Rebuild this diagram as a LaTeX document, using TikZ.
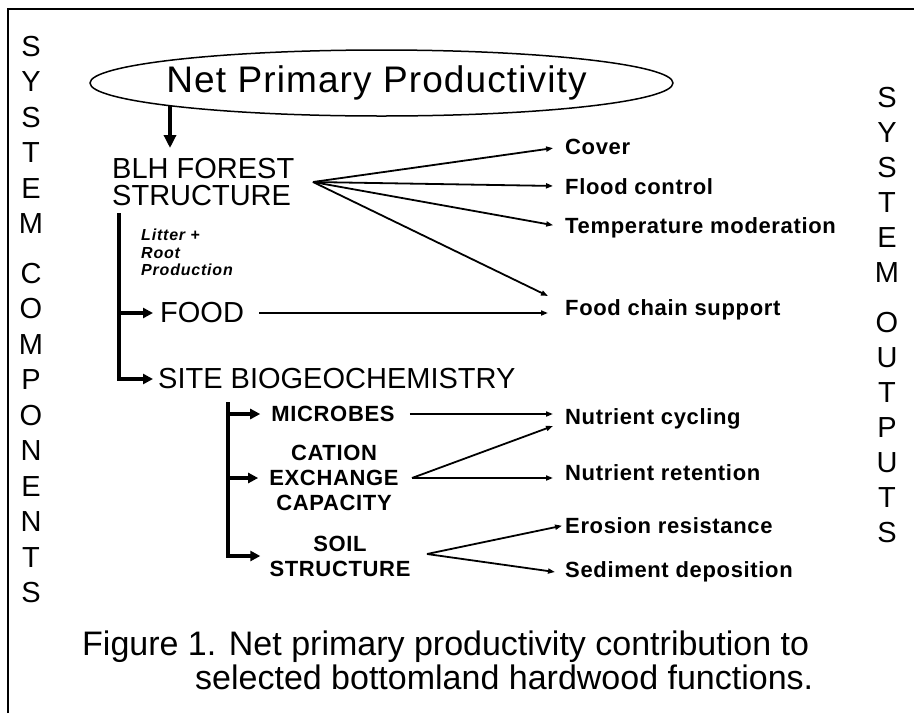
\documentclass[tikz,border=0pt]{standalone}
\usepackage{fontspec}
\setmainfont{Liberation Sans}
\newfontfamily\titlefont[LetterSpace=3]{Liberation Sans}
\newfontfamily\trackfont[LetterSpace=3]{Liberation Sans}
\newfontfamily\notefont[LetterSpace=5]{Liberation Sans}
\usetikzlibrary{arrows.meta,shapes.geometric}

\tikzset{
  frame/.style={line width=2pt},
  npp/.style={ellipse, draw, line width=1.5pt, minimum width=583pt, minimum height=66pt, inner sep=0pt},
  npptext/.style={inner sep=0pt, font=\titlefont\fontsize{37}{37}\selectfont},
  comp/.style={inner sep=0pt, font=\fontsize{29}{27}\selectfont, align=left},
  sub/.style={inner sep=0pt, font=\trackfont\bfseries\fontsize{22}{25}\selectfont, align=center},
  outp/.style={inner sep=0pt, anchor=base west, font=\trackfont\bfseries\fontsize{22}{22}\selectfont},
  note/.style={inner sep=0pt, anchor=north west, align=left,
    font=\notefont\bfseries\itshape\fontsize{16}{17.5}\selectfont},
  colletter/.style={inner sep=0pt, anchor=base, font=\fontsize{29}{29}\selectfont},
  caption/.style={inner sep=0pt, anchor=base west, font=\fontsize{34}{34}\selectfont},
  trunkarrow/.style={line width=3.5pt, -{Triangle[length=10pt,width=10pt]}},
  downarrow/.style={line width=3.5pt, -{Triangle[length=13pt,width=12pt]}},
  fanarrow/.style={line width=1.8pt, -{Triangle[length=7pt,width=5pt]}},
}

\begin{document}
\begin{tikzpicture}[x=1pt,y=-1pt]
\useasboundingbox (0,0) rectangle (914,713);

% open frame: top and left rules
\coordinate (frtl) at (8,9);
\draw[frame] (frtl |- 0,713) -- (frtl) -- (914,9);

% side titles, one letter per line
\foreach \L [count=\i] in {S,Y,S,T,E,M}
  \node[colletter] (lca\i) at (31,{46+(\i-1)*35.5+10.4}) {\L};
\foreach \L [count=\i] in {C,O,M,P,O,N,E,N,T,S}
  \node[colletter] (lcb\i) at (31,{273+(\i-1)*35.5+10.4}) {\L};
\foreach \L [count=\i] in {S,Y,S,T,E,M}
  \node[colletter] (rca\i) at (887,{97+(\i-1)*35+10.4}) {\L};
\foreach \L [count=\i] in {O,U,T,P,U,T,S}
  \node[colletter] (rcb\i) at (887,{322+(\i-1)*35+10.4}) {\L};

% source
\node[npp] (npp) at (381.5,83) {};
\node[npptext] (npptitle) at (376.5,83) {Net Primary Productivity};
\coordinate (nppfoot) at (170,105);

% forest structure and its outputs
\node[comp, anchor=north west] (blh) at (112,158) {BLH FOREST\\STRUCTURE};
\draw[downarrow, shorten >=10pt] (nppfoot) -- (nppfoot |- blh.north);
\coordinate (blhout) at (313,182);
\node[outp] (cover) at (565,154) {Cover};
\node[outp] (flood) at (565,194) {Flood control};
\node[outp] (temp) at (565,233) {Temperature moderation};
\node[outp] (fcs) at (565,315) {Food chain support};
\coordinate (fcsin) at (548,296);
\draw[fanarrow, shorten >=12pt] (blhout) -- (cover.west);
\draw[fanarrow, shorten >=12pt] (blhout) -- (flood.west);
\draw[fanarrow, shorten >=12pt] (blhout) -- (temp.west);
\draw[fanarrow] (blhout) -- (fcsin);

% litter and root production branch
\node[note] (litter) at (141,229) {Litter +\\Root\\Production};
\coordinate (trunktop) at (119,213);
\node[comp, anchor=west] (food) at (160,313) {FOOD};
\node[comp, anchor=west] (site) at (158,379) {SITE BIOGEOCHEMISTRY};
\draw[trunkarrow, shorten >=5pt] (trunktop) |- (site.west);
\draw[trunkarrow, shorten >=7pt] (trunktop |- food.west) -- (food.west);
\draw[fanarrow, shorten <=15pt] (food.east) -- (food.east -| fcsin);

% site biogeochemistry components
\coordinate (brtop) at (228,402);
\node[sub] (microbes) at (333,414) {MICROBES};
\node[sub] (cec) at (334,478) {CATION\\EXCHANGE\\CAPACITY};
\node[sub] (soil) at (340,556) {SOIL\\STRUCTURE};
\draw[trunkarrow, shorten >=9pt] (brtop) |- (soil.west);
\draw[trunkarrow, shorten >=11pt] (brtop |- microbes.west) -- (microbes.west);
\draw[trunkarrow, shorten >=11pt] (brtop |- cec.west) -- (cec.west);

% biogeochemical outputs
\node[outp] (ncyc) at (565,424) {Nutrient cycling};
\node[outp] (nret) at (565,480) {Nutrient retention};
\node[outp] (eros) at (565,533) {Erosion resistance};
\node[outp] (sed) at (565,577) {Sediment deposition};
\coordinate (ncycin) at (553,426);
\coordinate (cecout) at (412,478);
\coordinate (soilout) at (427,554);
\coordinate (sedin) at (555,572);
\draw[fanarrow, shorten <=15pt] (microbes.east) -- (microbes.east -| ncycin);
\draw[fanarrow] (cecout) -- (ncycin);
\draw[fanarrow, shorten >=12pt] (cecout) -- (cecout -| nret.west);
\draw[fanarrow, shorten >=3pt] (soilout) -- (eros.west);
\draw[fanarrow] (soilout) -- (sedin);

% caption
\node[caption] (cap1) at (82,655) {Figure 1. Net primary productivity contribution to};
\node[caption] (cap2) at (195,689) {selected bottomland hardwood functions.};
\end{tikzpicture}
\end{document}
